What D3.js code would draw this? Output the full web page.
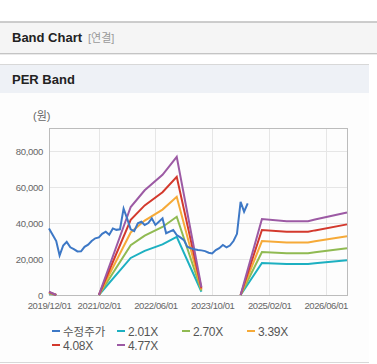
<!DOCTYPE html>
<html>
<head>
<meta charset="utf-8">
<script src="https://cdn.jsdelivr.net/npm/d3@7"></script>
<style>
  body { margin: 0; background: #fff; }
  text { font-family: "Liberation Sans", "Noto Sans CJK KR", sans-serif; }
</style>
</head>
<body>
<div id="chart"></div>
<script>
// price (monthly, from 2019/12)
const priceStart = "2019-12-01";
const priceValues = [37000, 33500, 30000, 22000, 27500, 29500, 26500, 25500, 24200, 24300,
  26800, 28000, 30000, 31500, 32000, 34000, 35200, 33500, 37000, 36200,
  36500, 48000, 42600, 36500, 35500, 39800, 40700, 38900, 40000, 42600,
  38900, 40700, 42600, 34300, 35200, 36100, 33300, 32000, 30500, 26800,
  26000, 25400, 25000, 24800, 24400, 23500, 23100, 25000, 26000, 27800,
  26500, 27500, 30000, 34000, 51800, 46300, 50900];

// band vertices
const bandDates = ["2019-12-01", "2020-02-01", "2020-06-01", "2021-02-01", "2021-11-01", "2022-03-01",
  "2022-08-01", "2022-12-01", "2023-07-01", "2024-01-01", "2024-06-01", "2024-12-01",
  "2025-07-01", "2026-01-01", "2026-03-01", "2026-12-01"];
const band201 = [804, 0, null, 0, 20600, 24520, 28140, 32360, 1810, null, 0, 17790, 17290, 17290, 17690, 19340];
const band270 = [1080, 0, null, 0, 27680, 32940, 37800, 43470, 2430, null, 0, 23900, 23220, 23220, 23760, 25970];
const band339 = [1360, 0, null, 0, 34750, 41360, 47460, 54580, 3050, null, 0, 30000, 29150, 29150, 29830, 32610];
const band408 = [1630, 0, null, 0, 41820, 49780, 57120, 65690, 3670, null, 0, 36110, 35090, 35090, 35900, 39250];
const band477 = [1910, 0, null, 0, 48890, 58190, 66780, 76800, 4290, null, 0, 42210, 41020, 41020, 41980, 45890];

const seriesNames = ["수정주가", "2.01X", "2.70X", "3.39X", "4.08X", "4.77X"];
const seriesColors = ["#3d78c6", "#1db0c1", "#90ba52", "#f6aa38", "#d3392d", "#9c5aa4"];

const xTickLabels = ["2019/12/01", "2021/02/01", "2022/06/01", "2023/10/01", "2025/02/01", "2026/06/01"];
const yTickValues = [0, 20000, 40000, 60000, 80000];

const parse = d3.timeParse("%Y-%m-%d");
const parseTick = d3.timeParse("%Y/%m/%d");

const width = 377, height = 364;
const svg = d3.select("#chart").append("svg")
  .attr("width", width)
  .attr("height", height);

// top header
svg.append("rect").attr("x", 0).attr("y", 22).attr("width", width).attr("height", 31).attr("fill", "#f5f5f5");
svg.append("line").attr("x1", 0).attr("x2", width).attr("y1", 22).attr("y2", 22).attr("stroke", "#bdbdbd").attr("stroke-width", 1.5);
svg.append("line").attr("x1", 0).attr("x2", width).attr("y1", 53.5).attr("y2", 53.5).attr("stroke", "#c4c4c4").attr("stroke-width", 1);
svg.append("line").attr("x1", 0).attr("x2", width).attr("y1", 54.5).attr("y2", 54.5).attr("stroke", "#eaeaea").attr("stroke-width", 1);
svg.append("text").attr("x", 12).attr("y", 42).attr("font-size", 13).attr("font-weight", "bold").attr("fill", "#222").text("Band Chart");
svg.append("text").attr("x", 88).attr("y", 42).attr("font-size", 11).attr("fill", "#999").attr("font-family", "Noto Sans CJK KR").text("[연결]");

// panel
svg.append("rect").attr("x", 0).attr("y", 64).attr("width", 369).attr("height", 298).attr("fill", "#fdfdfd");
svg.append("rect").attr("x", 0).attr("y", 65).attr("width", 369).attr("height", 28).attr("fill", "#eef1f6");
svg.append("line").attr("x1", 0).attr("x2", 369).attr("y1", 64.5).attr("y2", 64.5).attr("stroke", "#d8d8d8");
svg.append("line").attr("x1", 0).attr("x2", 369).attr("y1", 362.5).attr("y2", 362.5).attr("stroke", "#d8d8d8");
svg.append("text").attr("x", 12).attr("y", 84).attr("font-size", 13).attr("font-weight", "bold").attr("fill", "#222").text("PER Band");

// plot
const margin = {top: 128, left: 49, right: 30, bottom: 69};
const chartWidth = width - margin.left - margin.right;
const chartHeight = height - margin.top - margin.bottom;

const xScale = d3.scaleTime()
  .domain([parse("2019-12-01"), parse("2026-12-01")])
  .range([0, chartWidth]);
const yScale = d3.scaleLinear()
  .domain([0, 92800])
  .range([chartHeight, 0]);

const chartGroup = svg.append("g")
  .attr("transform", `translate(${margin.left}, ${margin.top})`);

// grid
chartGroup.selectAll(".hgrid").data(yTickValues.slice(1)).enter().append("line")
  .attr("x1", 0).attr("x2", chartWidth)
  .attr("y1", d => Math.round(yScale(d)) + 0.5).attr("y2", d => Math.round(yScale(d)) + 0.5)
  .attr("stroke", "#e6e6e6");
chartGroup.selectAll(".vgrid").data(xTickLabels.slice(1)).enter().append("line")
  .attr("x1", d => Math.round(xScale(parseTick(d))) + 0.5).attr("x2", d => Math.round(xScale(parseTick(d))) + 0.5)
  .attr("y1", 0).attr("y2", chartHeight)
  .attr("stroke", "#e6e6e6");

// frame
chartGroup.append("rect")
  .attr("x", 0.5).attr("y", 0.5)
  .attr("width", chartWidth).attr("height", chartHeight)
  .attr("fill", "none").attr("stroke", "#bcbcbc");

// axes
const yAxis = d3.axisLeft(yScale).tickValues(yTickValues).tickSize(0).tickPadding(6).tickFormat(d3.format(","));
const xAxis = d3.axisBottom(xScale).tickValues(xTickLabels.map(parseTick)).tickSize(0).tickPadding(7)
  .tickFormat(d3.timeFormat("%Y/%m/%d"));

const yG = chartGroup.append("g").call(yAxis);
const xG = chartGroup.append("g").attr("transform", `translate(0, ${chartHeight})`).call(xAxis);
[yG, xG].forEach(g => {
  g.select(".domain").remove();
  g.selectAll("text").attr("font-size", 9.5).attr("fill", "#666")
    .attr("font-family", "Liberation Sans, sans-serif");
});
xG.selectAll("text").attr("letter-spacing", -0.4);
yG.selectAll("text").attr("letter-spacing", -0.3);

chartGroup.append("text")
  .attr("x", -16).attr("y", -8)
  .attr("font-size", 11).attr("fill", "#666")
  .attr("font-family", "Noto Sans CJK KR")
  .text("(원)");

// lines
const line = d3.line()
  .defined(d => d.v !== null)
  .x(d => xScale(d.date))
  .y(d => yScale(d.v));

const bandSeries = [band201, band270, band339, band408, band477];
const priceData = priceValues.map((v, i) => ({date: d3.timeMonth.offset(parse(priceStart), i), v: v}));

bandSeries.forEach((vals, i) => {
  const data = vals.map((v, j) => ({date: parse(bandDates[j]), v: v}));
  chartGroup.append("path")
    .datum(data)
    .attr("fill", "none")
    .attr("stroke", seriesColors[i + 1])
    .attr("stroke-width", 2)
    .attr("d", line);
});

chartGroup.append("path")
  .datum(priceData)
  .attr("fill", "none")
  .attr("stroke", seriesColors[0])
  .attr("stroke-width", 2)
  .attr("d", line);

// legend
const legend = svg.append("g");
seriesNames.forEach((name, i) => {
  const col = i < 4 ? i : i - 4;
  const row = i < 4 ? 0 : 1;
  const gx = 52 + col * 65;
  const gy = 331 + row * 14;
  legend.append("line")
    .attr("x1", gx).attr("x2", gx + 8)
    .attr("y1", gy).attr("y2", gy)
    .attr("stroke", seriesColors[i]).attr("stroke-width", 2);
  legend.append("text")
    .attr("x", gx + 11).attr("y", gy + 4.5)
    .attr("font-size", i === 0 ? 11.5 : 12).attr("fill", "#555")
    .attr("font-family", i === 0 ? "Noto Sans CJK KR" : "Liberation Sans, sans-serif")
    .attr("letter-spacing", i === 0 ? 0 : -0.3)
    .text(name);
});
</script>
</body>
</html>
